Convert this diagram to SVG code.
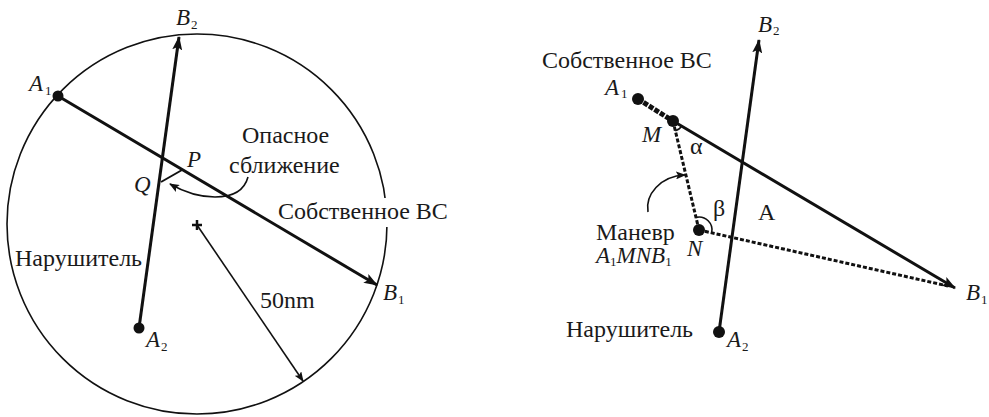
<svg xmlns="http://www.w3.org/2000/svg" width="989" height="417" viewBox="0 0 989 417">
<style>
.t{font-family:"Liberation Serif","Times New Roman",serif;font-size:24px;fill:#1a1a1a}
.i{font-family:"Liberation Serif","Times New Roman",serif;font-size:23px;font-style:italic;fill:#1a1a1a}
.s{font-family:"Liberation Serif","Times New Roman",serif;font-size:13px;font-style:normal;fill:#1a1a1a}
.ln{stroke:#111;stroke-width:3;fill:none}
.thin{stroke:#111;stroke-width:1.6;fill:none}
.dash{stroke:#111;stroke-width:3;fill:none;stroke-dasharray:4 2}
.dot{fill:#111}
</style>
<defs>
<marker id="arr" viewBox="0 0 14 10" refX="13" refY="5" markerWidth="14" markerHeight="10" orient="auto" markerUnits="userSpaceOnUse"><path d="M0,0 L14,5 L0,10 L3,5 z" fill="#111"/></marker>
<marker id="arrS" viewBox="0 0 10 8" refX="9" refY="4" markerWidth="10" markerHeight="8" orient="auto" markerUnits="userSpaceOnUse"><path d="M0,0 L10,4 L0,8 L2,4 z" fill="#111"/></marker>
</defs>

<g id="left">
  <g id="zone">
    <circle cx="197" cy="224" r="190" class="thin"/>
    <path d="M192,225 H202 M197,220 V230" stroke="#111" stroke-width="2.5"/>
  </g>
  <g id="connectors-left">
    <line x1="58" y1="96" x2="377" y2="285" class="ln" marker-end="url(#arr)"/>
    <line x1="139" y1="328" x2="179" y2="37" class="ln" marker-end="url(#arr)"/>
    <line x1="197" y1="225" x2="303" y2="381" class="thin" marker-end="url(#arrS)"/>
    <line x1="182" y1="170" x2="161" y2="182" stroke="#111" stroke-width="2"/>
    <path d="M248,177 C244,192 232,197 215,197 C198,197 184,192 170,184" class="thin" marker-end="url(#arrS)"/>
  </g>
  <g id="A1"><circle cx="58" cy="96" r="5.5" class="dot"/><text x="29" y="91" class="i">A</text><text x="45" y="95" class="s">1</text></g>
  <g id="B1"><text x="383" y="300" class="i">B</text><text x="398" y="304" class="s">1</text></g>
  <g id="A2"><circle cx="139" cy="328" r="5.5" class="dot"/><text x="146" y="347" class="i">A</text><text x="161" y="351" class="s">2</text></g>
  <g id="B2"><text x="176" y="25" class="i">B</text><text x="191" y="29" class="s">2</text></g>
  <g id="P"><text x="187" y="167" class="i">P</text></g>
  <g id="Q"><text x="134" y="192" class="i">Q</text></g>
  <g id="danger"><text x="242" y="143" class="t">Опасное</text><text x="229" y="173" class="t">сближение</text></g>
  <g id="ownL"><rect x="372" y="198" width="28" height="29" fill="#fff"/><text x="278" y="219" class="t">Собственное ВС</text></g>
  <g id="intruderL"><text x="15" y="266" class="t">Нарушитель</text></g>
  <g id="radius"><text x="260" y="308" class="t">50nm</text></g>
</g>

<g id="right">
  <g id="connectors-right">
    <line x1="673" y1="121" x2="955" y2="288" class="ln" marker-end="url(#arr)"/>
    <line x1="638" y1="99" x2="673" y2="121" stroke="#111" stroke-width="5" stroke-dasharray="5 1.5"/>
    <line x1="719" y1="332" x2="759" y2="40" class="ln" marker-end="url(#arr)"/>
    <line x1="673" y1="121" x2="699" y2="230" class="dash"/>
    <line x1="699" y1="230" x2="948" y2="286" class="dash"/>
    <path d="M675.3,130.7 A10,10 0 0 0 681.6,126.1" class="thin" stroke-width="2"/>
    <path d="M696,217.4 A13,13 0 0 1 711.7,232.9" class="thin" stroke-width="2.2"/>
    <path d="M648,212 C645,195 660,176 685,175" class="thin" marker-end="url(#arrS)"/>
  </g>
  <g id="ownR"><text x="542" y="68" class="t">Собственное ВС</text></g>
  <g id="A1r"><circle cx="638" cy="99" r="6" class="dot"/><text x="605" y="95" class="i">A</text><text x="621" y="98" class="s">1</text></g>
  <g id="M"><circle cx="673" cy="121" r="6" class="dot"/><text x="642" y="142" class="i">M</text></g>
  <g id="alpha"><text x="690" y="154" class="t">α</text></g>
  <g id="N"><circle cx="699" cy="230" r="6" class="dot"/><text x="687" y="256" class="i">N</text></g>
  <g id="beta"><text x="713" y="216" class="t">β</text></g>
  <g id="Alabel"><text x="758" y="220" class="t">A</text></g>
  <g id="B1r"><text x="966" y="300" class="i">B</text><text x="981" y="304" class="s">1</text></g>
  <g id="B2r"><text x="758" y="32" class="i">B</text><text x="773" y="35" class="s">2</text></g>
  <g id="A2r"><circle cx="719" cy="332" r="6" class="dot"/><text x="727" y="347" class="i">A</text><text x="742" y="351" class="s">2</text></g>
  <g id="intruderR"><text x="566" y="337" class="t">Нарушитель</text></g>
  <g id="maneuver"><text x="596" y="240" class="t">Маневр</text>
    <text x="596" y="263" class="i">A<tspan class="s" dy="3">1</tspan><tspan dy="-3">MNB</tspan><tspan class="s" dy="3">1</tspan></text></g>
</g>
</svg>
